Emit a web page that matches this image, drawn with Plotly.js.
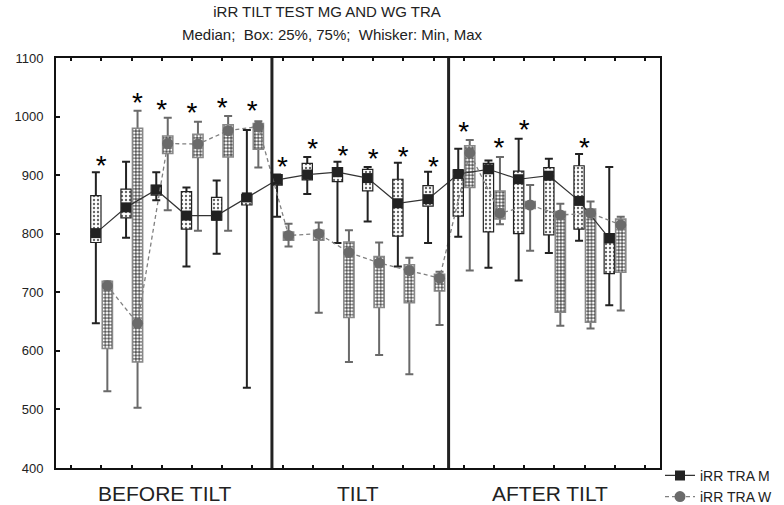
<!DOCTYPE html>
<html>
<head>
<meta charset="utf-8">
<script src="https://cdn.plot.ly/plotly-3.0.1.min.js"></script>
<style>html,body{margin:0;padding:0;background:#fff}</style>
</head>
<body>
<div id="chart" style="width:784px;height:505px"></div>
<script>
// ---- data ----
const timepoints = [1,2,3,4,5,6,7,8,9,10,11,12,13,14,15,16,17,18];
const phases = ['BEFORE TILT','TILT','AFTER TILT'];
const phaseX = [3.1, 9.5, 15.85];
const separators = [6.65, 12.5];

const mMin    = [647, 793, 857, 744, 766, 537, 829, 868, 784, 821, 744, 784, 795, 742, 720, 767, 788, 678];
const mQ1     = [785, 827, 866, 808, 823, 849, 883, 892, 889, 873, 796, 847, 830, 803, 800, 798, 808, 732];
const mMedian = [801, 845, 875, 831, 831, 862, 892, 901, 905, 895, 852, 859, 902, 910, 893, 899, 856, 792];
const mQ3     = [865, 876, 883, 872, 862, 867, 901, 920, 913, 910, 893, 882, 909, 920, 907, 913, 916, 800];
const mMax    = [905, 923, 905, 879, 891, 977, 901, 931, 923, 914, 921, 906, 945, 925, 962, 928, 936, 914];

const wMin    = [531, 503, 840, 805, 805, 913, 778, 665, 581, 593, 560, 644, 737, 816, 771, 643, 638, 669];
const wQ1     = [604, 581, 937, 930, 931, 944, 789, 789, 657, 674, 682, 702, 879, 825, 843, 666, 649, 734];
const wMedian = [711, 647, 954, 953, 976, 983, 797, 800, 768, 750, 737, 724, 938, 835, 849, 832, 835, 815];
const wQ3     = [719, 980, 967, 970, 986, 988, 803, 806, 786, 761, 747, 731, 950, 873, 855, 838, 842, 825];
const wMax    = [719, 1010, 998, 991, 1001, 992, 817, 819, 806, 785, 759, 735, 960, 931, 883, 851, 855, 829];

const starX = [1, 2.2, 3, 4, 5, 6, 7, 8, 9, 10, 11, 12, 13, 14.17, 15, 17];
const starY = [923, 1029, 1018, 1012, 1021, 1016, 920, 951, 940, 934, 937, 920, 980, 953, 984, 953];

// ---- styling / positioning ----
const FONT = 'Liberation Sans, Arial, sans-serif';
const offM = -0.18, offW = 0.2, boxW = 0.34;
const xM = timepoints.map(t => t + offM);
const xW = timepoints.map(t => t + offW);
const mColor = '#222222', wColor = '#6a6a6a';

function whisker(x, med, mn, mx, color) {
  return {
    type: 'bar', x: x, y: med, base: 0, width: boxW,
    marker: {color: 'rgba(0,0,0,0)', line: {width: 0}},
    error_y: {type: 'data', symmetric: false,
      array: mx.map((v, i) => v - med[i]),
      arrayminus: med.map((v, i) => v - mn[i]),
      color: color, thickness: 2, width: 4},
    showlegend: false, hoverinfo: 'skip'
  };
}
function boxes(x, q1, q3, fill, shape, fg, lineColor, lw, size, solidity) {
  return {
    type: 'bar', x: x, base: q1, y: q3.map((v, i) => v - q1[i]), width: boxW,
    marker: {color: fill, line: {color: lineColor, width: lw},
      pattern: {shape: shape, fgcolor: fg, bgcolor: fill, size: size, solidity: solidity}},
    showlegend: false, hoverinfo: 'skip'
  };
}

const traces = [
  whisker(xM, mMedian, mMin, mMax, mColor),
  whisker(xW, wMedian, wMin, wMax, wColor),
  boxes(xM, mQ1, mQ3, '#ffffff', '.', '#666', mColor, 1.2, 4, 0.28),
  boxes(xW, wQ1, wQ3, '#ffffff', '+', '#111', '#888', 1.5, 3.4, 0.4),
  {type: 'scatter', mode: 'lines+markers', name: 'iRR TRA M', x: xM, y: mMedian,
   line: {color: '#333', width: 1.2},
   marker: {symbol: 'square', size: 10, color: mColor}},
  {type: 'scatter', mode: 'lines+markers', name: 'iRR TRA W', x: xW, y: wMedian,
   line: {color: '#808080', width: 1.3, dash: '4px,3px'},
   marker: {symbol: 'circle', size: 11, color: wColor}},
  {type: 'scatter', mode: 'text', x: starX, y: starY.map(v => v - 10), text: starX.map(() => '*'),
   textposition: 'middle center', textfont: {family: FONT, size: 28, color: '#000'},
   showlegend: false, hoverinfo: 'skip'}
];

const layout = {
  width: 784, height: 505,
  margin: {l: 56, r: 124, t: 58, b: 37, autoexpand: false},
  paper_bgcolor: '#fff', plot_bgcolor: '#fff',
  font: {family: FONT, color: '#222'},
  barmode: 'overlay',
  title: {text: 'iRR TILT TEST MG AND WG TRA', font: {family: FONT, size: 15, color: '#222'},
    xref: 'container', x: 327/784, xanchor: 'center', yref: 'container', y: 1 - 12/505, yanchor: 'middle'},
  xaxis: {range: [-0.5, 19.5], tickmode: 'array', tickvals: [0,1,2,3,4,5,6,7,8,9,10,11,12,13,14,15,16,17,18,19],
    ticktext: Array(20).fill(''), ticks: 'inside', ticklen: 3, tickwidth: 2, tickcolor: '#111',
    showline: true, linewidth: 2, linecolor: '#111', mirror: 'ticks', showgrid: false, zeroline: false, fixedrange: true},
  yaxis: {range: [400, 1100], dtick: 100, ticks: 'inside', ticklen: 4, tickwidth: 2, tickcolor: '#111',
    showline: true, linewidth: 2, linecolor: '#111', mirror: true, showgrid: false, zeroline: false,
    tickfont: {family: FONT, size: 13, color: '#222'}, ticklabelstandoff: 8},
  shapes: separators.map(s => ({type: 'line', xref: 'x', yref: 'paper', x0: s, x1: s, y0: 0, y1: 1,
    line: {color: '#222', width: 3}})),
  annotations: [
    {text: 'Median;  Box: 25%, 75%;  Whisker: Min, Max', xref: 'paper', yref: 'paper',
     x: (332 - 56) / 604, y: (468 - 35) / 410, xanchor: 'center', yanchor: 'middle', showarrow: false,
     font: {family: FONT, size: 15, color: '#222'}}
  ].concat(phases.map((p, i) => ({text: p, xref: 'x', yref: 'paper', x: phaseX[i], y: (468 - 493) / 410,
     xanchor: 'center', yanchor: 'middle', showarrow: false, font: {family: FONT, size: 21, color: '#222'}}))),
  legend: {x: 1.0, xanchor: 'left', y: 0.02, yanchor: 'top', bgcolor: 'rgba(0,0,0,0)',
    font: {family: FONT, size: 14, color: '#222'}, itemwidth: 30, tracegroupgap: 0}
};

Plotly.newPlot('chart', traces, layout, {displayModeBar: false, staticPlot: true});
</script>
</body>
</html>
